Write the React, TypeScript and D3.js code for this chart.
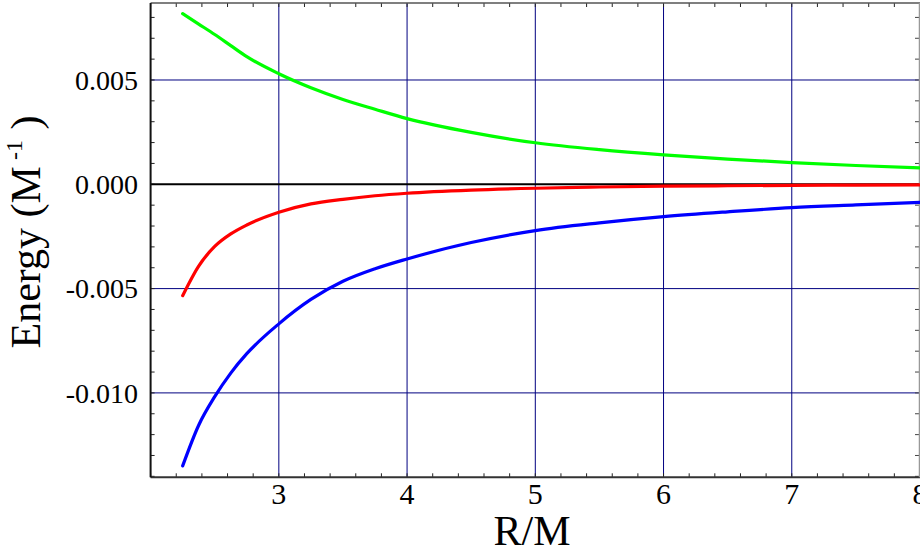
import React from "react";
import * as d3 from "d3";

const radius = [2.25, 2.375, 2.5, 2.625, 2.75, 3, 3.25, 3.5, 3.75, 4, 4.5, 5, 5.5, 6, 6.5, 7, 7.5, 8];
const greenSeries = [0.00818, 0.00768, 0.00718, 0.00665, 0.00612, 0.0053, 0.00463, 0.00407, 0.0036, 0.00315, 0.00249, 0.00199, 0.00166, 0.00141, 0.00121, 0.00104, 0.0009, 0.00079];
const redSeries = [-0.00534, -0.00392, -0.00298, -0.00238, -0.00195, -0.00134, -0.00094, -0.00072, -0.00055, -0.00043, -0.00028, -0.00019, -0.00013, -0.00009, -0.00007, -0.00005, -0.00004, -0.00003];
const blueSeries = [-0.0135, -0.01155, -0.01018, -0.00905, -0.00812, -0.00669, -0.00552, -0.00465, -0.00405, -0.00358, -0.00279, -0.00222, -0.00185, -0.00155, -0.00132, -0.00112, -0.00099, -0.00087];
const xTicks = [3, 4, 5, 6, 7, 8];
const yTicks = [0.005, 0, -0.005, -0.01];
const yTickLabels = ["0.005", "0.000", "-0.005", "-0.010"];
const xDomain = [2, 8];
const yDomain = [-0.014046, 0.008691];

const W = 920;
const H = 546;
const L = 150.6;
const R = 920;
const T = 3;
const B = 477.3;
const font = "'Liberation Serif', 'Times New Roman', Times, serif";

export default function App() {
  const x = d3.scaleLinear().domain(xDomain).range([L, R]);
  const y = d3.scaleLinear().domain(yDomain).range([B, T]);
  const line = d3
    .line<number>()
    .x((_, i) => x(radius[i]))
    .y((d) => y(d))
    .curve(d3.curveMonotoneX);

  const xMinor = d3.range(2, 8.0001, 0.2);
  const yMinor = d3.range(-0.014, 0.0086, 0.001);
  const series = [
    { values: greenSeries, color: "#00ff00" },
    { values: redSeries, color: "#ff0000" },
    { values: blueSeries, color: "#0000ff" },
  ];

  return (
    <div style={{ position: "fixed", left: 0, top: 0 }}>
      <svg width={W} height={H} style={{ display: "block", background: "#fff" }}>
        {xTicks.filter((t) => t < 8).map((t) => (
          <line key={"gx" + t} x1={x(t)} x2={x(t)} y1={T} y2={B} stroke="#000080" strokeWidth={1} />
        ))}
        {yTicks.filter((t) => t !== 0).map((t) => (
          <line key={"gy" + t} x1={L} x2={R} y1={y(t)} y2={y(t)} stroke="#000080" strokeWidth={1} />
        ))}
        {xMinor.map((t, i) => (
          <g key={"xm" + i}>
            <line x1={x(t)} x2={x(t)} y1={B} y2={B - 4} stroke="#222" strokeWidth={1} />
            <line x1={x(t)} x2={x(t)} y1={T} y2={T + 4} stroke="#222" strokeWidth={1} />
          </g>
        ))}
        {yMinor.map((t, i) => (
          <g key={"ym" + i}>
            <line x1={L} x2={L + 4} y1={y(t)} y2={y(t)} stroke="#222" strokeWidth={1} />
            <line x1={R - 1} x2={R - 5} y1={y(t)} y2={y(t)} stroke="#444" strokeWidth={1} />
          </g>
        ))}
        <line x1={L} x2={R} y1={y(0)} y2={y(0)} stroke="#000" strokeWidth={2} />
        <line x1={L} x2={R} y1={T} y2={T} stroke="#555" strokeWidth={1.5} />
        <line x1={L} x2={R} y1={B} y2={B} stroke="#333" strokeWidth={2} />
        <line x1={L} x2={L} y1={T} y2={B} stroke="#111" strokeWidth={2} />
        <line x1={R - 0.5} x2={R - 0.5} y1={T} y2={B} stroke="#999" strokeWidth={1.5} />
        {series.map((s, i) => (
          <path key={"s" + i} d={line(s.values) || ""} fill="none" stroke={s.color} strokeWidth={3.2} strokeLinejoin="round" strokeLinecap="round" />
        ))}
        {yTicks.map((t, i) => (
          <text key={"yl" + t} x={138} y={y(t)} dy="0.35em" textAnchor="end" fontFamily={font} fontSize={28} fill="#000">
            {yTickLabels[i]}
          </text>
        ))}
        {xTicks.map((t) => (
          <text key={"xl" + t} x={x(t)} y={504} textAnchor="middle" fontFamily={font} fontSize={30} fill="#000">
            {t}
          </text>
        ))}
        <text x={532} y={545} textAnchor="middle" fontFamily={font} fontSize={42} fill="#000">
          R/M
        </text>
        <text transform="translate(40,232) rotate(-90)" textAnchor="middle" fontFamily={font} fontSize={42} fill="#000">
          Energy (M<tspan fontSize={24} dy={-18}> -1</tspan><tspan dy={18}> )</tspan>
        </text>
      </svg>
    </div>
  );
}
